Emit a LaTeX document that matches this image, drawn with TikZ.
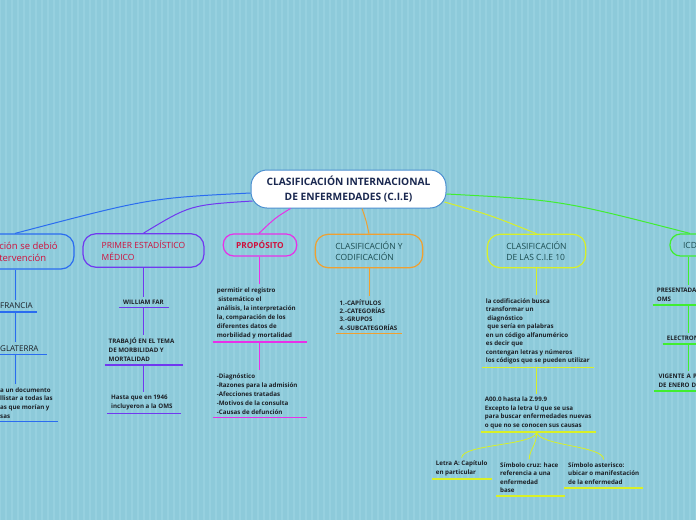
\documentclass[tikz,border=0pt]{standalone}
\usepackage{fontspec}
\setmainfont{Open Sans}
\usetikzlibrary{calc}
\definecolor{bgc}{HTML}{8DCADA}
\definecolor{bglc}{HTML}{96D0DF}
\definecolor{kblue}{HTML}{2A6CF0}
\definecolor{kpurple}{HTML}{7038F0}
\definecolor{kmag}{HTML}{E830E8}
\definecolor{korange}{HTML}{F0A030}
\definecolor{kyel}{HTML}{D8F028}
\definecolor{kgreen}{HTML}{40EE30}
\definecolor{kcen}{HTML}{4A8ED0}
\definecolor{tred}{HTML}{D0103C}
\definecolor{tteal}{HTML}{1C4C50}
\definecolor{tnavy}{HTML}{1A2850}
\definecolor{tdark}{HTML}{1C2026}
\begin{document}
\begin{tikzpicture}[x=1pt,y=-1pt,
  central/.style={draw=kcen, fill=white, line width=1pt, rounded corners=16pt,
    minimum width=195pt, minimum height=38pt, align=center,
    font=\fontsize{10.2}{15}\selectfont\bfseries, text=tnavy},
  topic/.style={line width=1.2pt, rounded corners=13pt, minimum height=33.5pt,
    align=left, font=\fontsize{8.5}{11.5}\selectfont},
  topicsm/.style={topic, rounded corners=10.5pt, minimum height=22pt},
  ch/.style={anchor=south west, align=left, inner xsep=4pt, inner ysep=3pt,
    font=\fontsize{6.2}{9}\selectfont\bfseries, text=tdark},
  chbig/.style={ch, font=\fontsize{8}{10}\selectfont},
  trunk/.style={line width=0.8pt},
  link/.style={line width=1pt},
  ul/.style={line width=1.6pt}]
\useasboundingbox (0,0) rectangle (696,520);
\fill[bgc] (0,0) rectangle (696,520);
\draw[bglc, line width=1.2pt, step=6] (0,0) grid (696,520);

% central node
\node[central] (c) at (348.5,189) {CLASIFICACIÓN INTERNACIONAL\\DE ENFERMEDADES (C.I.E)};

% main topics
\node[topic, draw=kblue, text=tred, minimum width=91pt, minimum height=35pt, font=\fontsize{9.5}{12}\selectfont] (b1) at (28.5,251.5) {ción se debió\\tervención};
\node[topic, draw=kpurple, text=tred, minimum width=121pt] (b2) at (143.5,250.5) {PRIMER ESTADÍSTICO\\MÉDICO};
\node[topicsm, draw=kmag, text=tred, minimum width=73.5pt, font=\fontsize{8.3}{11.5}\selectfont\bfseries] (b3) at (260,245) {PROPÓSITO};
\node[topic, draw=korange, text=tteal, minimum width=107.5pt] (b4) at (369,251) {CLASIFICACIÓN Y\\CODIFICACIÓN};
\node[topic, draw=kyel, text=tteal, minimum width=98.5pt] (b5) at (536.5,251) {CLASIFICACIÓN\\DE LAS C.I.E 10};
\node[topicsm, draw=kgreen, text=tteal, minimum width=40pt] (b6) at (690,245) {ICD};

% links from the centre
\draw[link, kblue] ($(c.west)+(0,4)$) .. controls (150,198) .. ($(b1.north)+(-13.5,0)$);
\draw[link, kpurple] ($(c.west)+(2,12)$) .. controls (190,205) .. (b2.north);
\draw[link, kmag] ($(c.south)+(-58,0)$) .. controls (275,218) .. ($(b3.north)+(-1,0)$);
\draw[link, korange] ($(c.south)+(13.5,0)$) .. controls (366,220) .. (b4.north);
\draw[link, kyel] ($(c.east)+(-2,13)$) .. controls (490,215) .. (b5.north);
\draw[link, kgreen] ($(c.east)+(0,5)$) .. controls (560,200) .. (b6.north);

% trunk x positions
\coordinate (x1) at (15,0);
\coordinate (x2) at (143.5,0);
\coordinate (x3) at (259.5,0);
\coordinate (x4) at (369,0);
\coordinate (x5) at (536.7,0);
\coordinate (x6) at (688.3,0);

% branch 1
\node[chbig] (fr) at (-4,312) {FRANCIA};
\node[chbig] (gl) at (-4,354.5) {GLATERRA};
\node[ch, font=\fontsize{6.2}{8.7}\selectfont\bfseries] (dc) at (-4,421.5) {a un documento\\llistar a todas las\\as que morían y\\sas};
\draw[trunk, kblue] (b1.south -| x1) -- (fr.north -| x1);
\draw[trunk, kblue] (fr.south -| x1) -- (gl.north -| x1);
\draw[trunk, kblue] (gl.south -| x1) -- (dc.north -| x1);
\foreach \n/\e in {fr/0,gl/4,dc/1} \draw[ul, kblue] (\n.south west) -- ($(\n.south east)+(\e,0)$);

% branch 2
\node[ch] (w2) at (119,307.5) {WILLIAM FAR};
\node[ch] (t2) at (104.5,365) {TRABAJÓ EN EL TEMA\\DE MORBILIDAD Y\\MORTALIDAD};
\node[ch] (h2) at (107,413.5) {Hasta que en 1946\\incluyeron a la OMS};
\draw[trunk, kpurple] (b2.south -| x2) -- (w2.north -| x2);
\draw[trunk, kpurple] (w2.south -| x2) -- (t2.north -| x2);
\draw[trunk, kpurple] (t2.south -| x2) -- (h2.north -| x2);
\foreach \n/\e in {w2/1,t2/5,h2/4} \draw[ul, kpurple] (\n.south west) -- ($(\n.south east)+(\e,0)$);

% branch 3
\node[ch] (p3) at (212.7,341.7) {permitir el registro\\\hspace*{1.5pt}sistemático el\\análisis, la interpretación\\la, comparación de los\\diferentes datos de\\morbilidad y mortalidad};
\node[ch] (d3) at (212.7,417.3) {-Diagnóstico\\-Razones para la admisión\\-Afecciones tratadas\\-Motivos de la consulta\\-Causas de defunción};
\draw[trunk, kmag] (b3.south -| x3) -- (p3.north -| x3);
\draw[trunk, kmag] (p3.south -| x3) -- (d3.north -| x3);
\foreach \n/\e in {p3/7,d3/5} \draw[ul, kmag] (\n.south west) -- ($(\n.south east)+(\e,0)$);

% branch 4
\node[ch, font=\fontsize{6.2}{8.3}\selectfont\bfseries] (c4) at (335.5,333.3) {1.-CAPÍTULOS\\2.-CATEGORÍAS\\3.-GRUPOS\\4.-SUBCATEGORÍAS};
\draw[trunk, korange] (b4.south -| x4) -- (c4.north -| x4);
\draw[ul, korange] (c4.south west) -- (c4.south east);

% branch 5
\node[ch, font=\fontsize{6.2}{8.5}\selectfont\bfseries] (l5) at (481.7,367.3) {la codificación busca\\transformar un\\\hspace*{1.5pt}diagnóstico\\\hspace*{1.5pt}que sería en palabras\\en un código alfanumérico\\es decir que\\contengan letras y números\\los códigos que se pueden utilizar};
\node[ch, font=\fontsize{6.2}{8.5}\selectfont\bfseries] (a5) at (480.7,431.7) {A00.0 hasta la Z.99.9\\Excepto la letra U que se usa\\para buscar enfermedades nuevas\\o que no se conocen sus causas};
\node[ch, font=\fontsize{6.2}{8.7}\selectfont\bfseries] (la) at (431.7,479.2) {Letra A: Capítulo\\en particular};
\node[ch, font=\fontsize{6.2}{8.5}\selectfont\bfseries] (sc) at (496,496) {Símbolo cruz: hace\\referencia a una\\enfermedad\\base};
\node[ch, font=\fontsize{6.2}{8.5}\selectfont\bfseries] (sa) at (564,487.7) {Símbolo asterisco:\\ubicar o manifestación\\de la enfermedad};
\draw[trunk, kyel] (b5.south -| x5) -- (l5.north -| x5);
\draw[trunk, kyel] (l5.south -| x5) -- (a5.north -| x5);
\coordinate (s5) at (a5.south -| x5);
\draw[trunk, kyel] (s5) .. controls +(0,14) and +(0,-14) .. (la.north);
\draw[trunk, kyel] (s5) .. controls +(0,14) and +(0,-10) .. (sc.north);
\draw[trunk, kyel] (s5) .. controls +(0,14) and +(0,-14) .. (sa.north);
\foreach \n/\e in {l5/0,a5/0,la/0,sc/2,sa/0} \draw[ul, kyel] (\n.south west) -- ($(\n.south east)+(\e,0)$);

% branch 6
\node[ch, text width=60pt] (pr6) at (652.7,305) {PRESENTADA\\OMS};
\node[ch, text width=50pt] (el6) at (662.7,343.7) {ELECTRON};
\node[ch, text width=60pt] (vi6) at (654.3,391) {VIGENTE A P\\DE ENERO D};
\draw[trunk, kgreen] (b6.south -| x6) -- (pr6.north -| x6);
\draw[trunk, kgreen] (pr6.south -| x6) -- (el6.north -| x6);
\draw[trunk, kgreen] (el6.south -| x6) -- (vi6.north -| x6);
\foreach \n in {pr6,el6,vi6} \draw[ul, kgreen] (\n.south west) -- (\n.south east);
\end{tikzpicture}
\end{document}
